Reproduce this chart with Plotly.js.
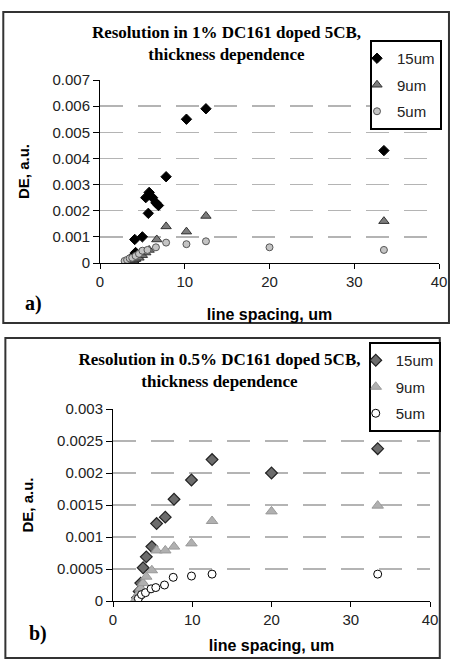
<!DOCTYPE html>
<html>
<head>
<meta charset="utf-8">
<script src="https://cdn.plot.ly/plotly-3.0.1.min.js"></script>
<style>
  html, body { margin: 0; padding: 0; background: #fff; }
  #wrap { position: relative; width: 453px; height: 659px; overflow: hidden; }
  #chartA { position: absolute; left: 0; top: 0; width: 453px; height: 330px; }
  #chartB { position: absolute; left: 0; top: 330px; width: 453px; height: 329px; }
</style>
</head>
<body>
<div id="wrap">
  <div id="chartA"></div>
  <div id="chartB"></div>
</div>
<script>
// ---------- Data: panel a) 1% DC161 doped 5CB ----------
var seriesNames = ["15um", "9um", "5um"];

var a15x = [3.4, 3.6, 3.8, 4.0, 4.2, 4.5, 4.1, 5.0, 5.4, 5.8, 5.7, 6.2, 6.6, 6.9, 7.8, 10.2, 12.5, 33.5];
var a15y = [0.00003, 0.0001, 0.0002, 0.0003, 0.0004, 0.0002, 0.0009, 0.001, 0.0025, 0.0027, 0.0019, 0.0025, 0.0023, 0.0022, 0.0033, 0.0055, 0.0059, 0.0043];

var a9x = [3.3, 3.6, 3.9, 4.2, 4.6, 5.0, 5.4, 5.8, 6.7, 7.8, 10.2, 12.5, 33.5];
var a9y = [0.00002, 0.00005, 0.0001, 0.00015, 0.0002, 0.0003, 0.0004, 0.0005, 0.0009, 0.0014, 0.0012, 0.0018, 0.0016];

var a5x = [2.9, 3.2, 3.5, 3.8, 4.2, 4.6, 5.0, 5.6, 6.6, 7.8, 10.2, 12.5, 20, 33.5];
var a5y = [0.00008, 0.00012, 0.00018, 0.0002, 0.00027, 0.00035, 0.00047, 0.0005, 0.0006, 0.00078, 0.00072, 0.00083, 0.0006, 0.0005];

// ---------- Data: panel b) 0.5% DC161 doped 5CB ----------
var b15x = [3.1, 3.3, 3.5, 3.8, 4.2, 4.9, 5.5, 6.6, 7.7, 9.9, 12.5, 20, 33.4];
var b15y = [0.00005, 0.00015, 0.00028, 0.00052, 0.00069, 0.00085, 0.00121, 0.00131, 0.00159, 0.00189, 0.00221, 0.002, 0.00238];

var b9x = [2.9, 3.1, 3.3, 3.5, 3.8, 4.2, 4.9, 5.5, 6.6, 7.7, 9.9, 12.5, 20, 33.4];
var b9y = [0.00003, 0.00008, 0.00013, 0.0002, 0.00028, 0.00038, 0.00048, 0.00079, 0.00079, 0.00085, 0.0009, 0.00125, 0.0014, 0.00149];

var b5x = [3.2, 3.6, 4.1, 4.8, 5.4, 6.5, 7.6, 9.9, 12.5, 33.4];
var b5y = [0.00004, 0.0001, 0.00013, 0.00019, 0.00021, 0.00025, 0.00037, 0.00039, 0.00042, 0.00042];

// ---------- Text ----------
var titleA = "<b>Resolution in 1% DC161 doped 5CB,<br>thickness dependence</b>";
var titleB = "<b>Resolution in 0.5% DC161 doped 5CB,<br>thickness dependence</b>";
var xTitle = "<b>line spacing, um</b>";
var yTitle = "<b>DE, a.u.</b>";

var SANS = "Liberation Sans, Arial, sans-serif";
var SERIF = "Liberation Serif, Times New Roman, serif";

function axisX(standoff) {
  return {
    range: [0, 40], dtick: 10, tick0: 0,
    showline: true, linecolor: "#000", linewidth: 1,
    ticks: "outside", ticklen: 5, tickcolor: "#000",
    showgrid: false, zeroline: false,
    tickfont: { family: SANS, size: 15, color: "#222" },
    title: { text: xTitle, font: { family: SANS, size: 16, color: "#000" }, standoff: standoff },
    fixedrange: true
  };
}
function axisY(range, dtick, standoff) {
  return {
    range: range, dtick: dtick, tick0: 0,
    showline: true, linecolor: "#000", linewidth: 1,
    ticks: "outside", ticklen: 6, tickcolor: "#000",
    showgrid: true, gridcolor: "#b4b4b4", gridwidth: 1.5, griddash: "23px,15px",
    zeroline: false,
    tickfont: { family: SANS, size: 15, color: "#222" },
    title: { text: yTitle, font: { family: SANS, size: 15, color: "#000" }, standoff: standoff },
    fixedrange: true
  };
}
function legendAt(x, y) {
  return { x: x, xanchor: "right", y: y, yanchor: "top",
           bgcolor: "#fff", bordercolor: "#000", borderwidth: 2,
           font: { family: SANS, size: 15, color: "#222" },
           tracegroupgap: 4, itemwidth: 30, indentation: -15 };
}

// ---------- Panel a ----------
var tracesA = [
  { x: a15x, y: a15y, name: seriesNames[0], legendgroup: "g1", type: "scatter", mode: "markers",
    marker: { symbol: "diamond", size: 8, color: "#000", line: { color: "#000", width: 1 } } },
  { x: a9x, y: a9y, name: seriesNames[1], legendgroup: "g2", type: "scatter", mode: "markers",
    marker: { symbol: "triangle-up", size: 9, color: "#7c7c7c", line: { color: "#333", width: 1 } } },
  { x: a5x, y: a5y, name: seriesNames[2], legendgroup: "g3", type: "scatter", mode: "markers",
    marker: { symbol: "circle", size: 7, color: "#c4c4c4", line: { color: "#555", width: 1 } } }
];

var layoutA = {
  width: 453, height: 330,
  margin: { l: 100, r: 13, t: 80, b: 67 },
  paper_bgcolor: "#fff", plot_bgcolor: "#fff",
  title: { text: titleA, font: { family: SERIF, size: 17, color: "#000" },
           x: 0.5, xanchor: "center", xref: "container", y: 1 - 38 / 330, yanchor: "top" },
  xaxis: axisX(19),
  yaxis: axisY([0, 0.007], 0.001, 19),
  showlegend: true,
  legend: legendAt((442 - 100) / 340, (263 - 40) / 183),
  shapes: [
    { type: "rect", xref: "paper", yref: "paper",
      x0: (3 - 100) / 340, x1: (450 - 100) / 340, y0: (263 - 323) / 183, y1: (263 - 12) / 183,
      line: { color: "#333", width: 2 }, fillcolor: "rgba(0,0,0,0)", layer: "below" }
  ],
  annotations: [
    { text: "<b>a)</b>", xref: "paper", yref: "paper", x: (23 - 100) / 340, y: (263 - 303) / 183,
      xanchor: "left", yanchor: "middle", showarrow: false,
      font: { family: SERIF, size: 20, color: "#000" } }
  ]
};

// ---------- Panel b ----------
var tracesB = [
  { x: b15x, y: b15y, name: seriesNames[0], legendgroup: "g1", type: "scatter", mode: "markers",
    marker: { symbol: "diamond", size: 9, color: "#6c6c6c", line: { color: "#222", width: 1.2 } } },
  { x: b9x, y: b9y, name: seriesNames[1], legendgroup: "g2", type: "scatter", mode: "markers",
    marker: { symbol: "triangle-up", size: 10, color: "#b0b0b0", line: { color: "#999", width: 1 } } },
  { x: b5x, y: b5y, name: seriesNames[2], legendgroup: "g3", type: "scatter", mode: "markers",
    marker: { symbol: "circle", size: 8, color: "#fff", line: { color: "#000", width: 1 } } }
];

var layoutB = {
  width: 453, height: 329,
  margin: { l: 113, r: 16, t: 79, b: 58 },
  paper_bgcolor: "#fff", plot_bgcolor: "#fff",
  title: { text: titleB, font: { family: SERIF, size: 17, color: "#000" },
           x: 0.5 - 7 / 453, xanchor: "center", xref: "container", y: 1 - 35 / 329, yanchor: "top" },
  xaxis: axisX(12),
  yaxis: axisY([0, 0.003], 0.0005, 19),
  showlegend: true,
  legend: legendAt((448 - 113) / 324, (271 - 12) / 192),
  shapes: [
    { type: "rect", xref: "paper", yref: "paper",
      x0: (3 - 113) / 324, x1: (447 - 113) / 324, y0: (271 - 328) / 192, y1: (271 - 8) / 192,
      line: { color: "#333", width: 2 }, fillcolor: "rgba(0,0,0,0)", layer: "below" }
  ],
  annotations: [
    { text: "<b>b)</b>", xref: "paper", yref: "paper", x: (25 - 113) / 324, y: (271 - 303) / 192,
      xanchor: "left", yanchor: "middle", showarrow: false,
      font: { family: SERIF, size: 20, color: "#000" } }
  ]
};

var config = { staticPlot: true, displayModeBar: false };
Plotly.newPlot("chartA", tracesA, layoutA, config);
Plotly.newPlot("chartB", tracesB, layoutB, config);
</script>
</body>
</html>
